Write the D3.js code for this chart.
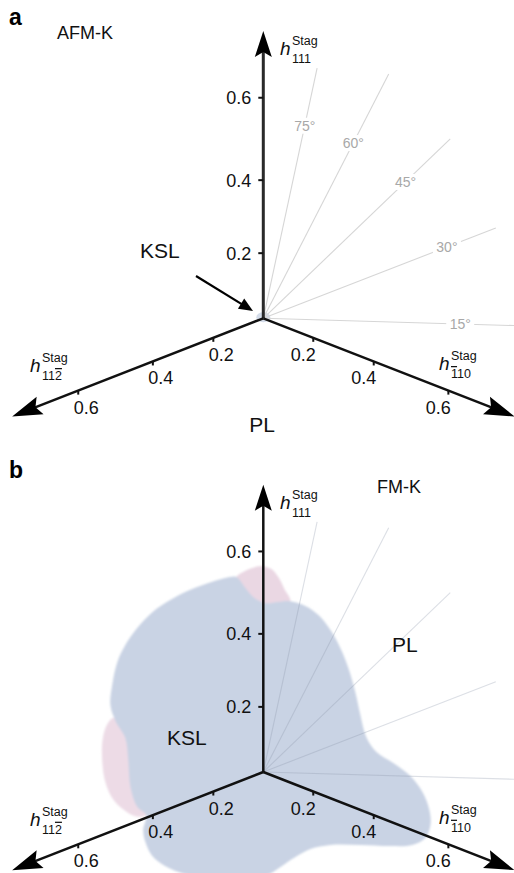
<!DOCTYPE html>
<html><head><meta charset="utf-8">
<script src="https://cdn.jsdelivr.net/npm/d3@7"></script>
<style>
html,body{margin:0;padding:0;background:#fff;}
svg{display:block;font-family:"Liberation Sans",Arial,Helvetica,sans-serif;}
</style>
</head><body>
<svg id="chart" width="514" height="873"></svg>
<script>
// ---------------- data ----------------
const tickValues = [0.2, 0.4, 0.6];
const tickLabels = ["0.2", "0.4", "0.6"];
const axisExtent = 0.745;
const axisKeys = ["111", "112", "110"];            // vertical, left, right
const axisOverline = [-1, 2, 0];                    // index of barred digit
const rayAngles = [15, 30, 45, 60, 75];             // degrees from h_{-110} toward h_{111}
const rayLabels = ["15°", "30°", "45°", "60°", "75°"];
const rayLengths = [0.77, 0.735, 0.735, 0.735, 0.68];
const panelLetters = ["a", "b"];
const panelTitles = ["AFM-K", "FM-K"];
const phaseLabelsA = ["KSL", "PL"];
const phaseLabelsB = ["KSL", "PL"];
// KSL region of panel b, outline in projected field units (u right, v up)
const kslOutline = [
  [-0.074,0.534],[-0.049,0.504],[-0.027,0.479],[0.005,0.463],[0.041,0.466],[0.074,0.468],
  [0.115,0.455],[0.151,0.430],[0.184,0.389],[0.211,0.340],[0.233,0.285],[0.252,0.219],
  [0.266,0.156],[0.282,0.096],[0.310,0.055],[0.356,0.025],[0.403,-0.011],[0.436,-0.055],
  [0.455,-0.104],[0.458,-0.145],[0.444,-0.181],[0.408,-0.200],[0.348,-0.203],[0.266,-0.200],
  [0.184,-0.200],[0.129,-0.211],[0.088,-0.233],[0.047,-0.260],[0.005,-0.285],[-0.063,-0.295],
  [-0.145,-0.293],[-0.214,-0.280],[-0.268,-0.258],[-0.304,-0.230],[-0.323,-0.192],[-0.329,-0.159],
  [-0.321,-0.118],[-0.345,-0.096],[-0.364,-0.041],[-0.370,0.033],[-0.378,0.093],[-0.405,0.140],
  [-0.419,0.184],[-0.414,0.238],[-0.400,0.301],[-0.378,0.348],[-0.345,0.395],[-0.304,0.438],
  [-0.255,0.471],[-0.200,0.499],[-0.140,0.521],[-0.101,0.532]
];
// secondary (pink) regions of panel b
const pinkTop = [
  [-0.074,0.534],[-0.055,0.548],[-0.030,0.559],[-0.003,0.564],[0.022,0.556],[0.041,0.534],
  [0.058,0.501],[0.074,0.468],[0.041,0.440],[0.005,0.440],[-0.040,0.470],[-0.070,0.500]
];
const pinkLeft = [
  [-0.411,0.148],[-0.430,0.126],[-0.441,0.082],[-0.441,0.027],[-0.433,-0.027],[-0.414,-0.071],
  [-0.386,-0.101],[-0.351,-0.121],[-0.321,-0.118],[-0.320,-0.060],[-0.340,0.050],[-0.380,0.130]
];

// ---------------- projection ----------------
const elev = 23 * Math.PI / 180, camDist = 1.501, focal = 484.4, zScale = 1.037;
function project(p, o) {
  const x = p[0], y = p[1], z = p[2] * zScale;
  const ce = Math.cos(elev), se = Math.sin(elev), s = Math.SQRT1_2;
  const right = (x - y) * s;
  const up = -(x + y) * s * se + z * ce;
  const toward = (x + y) * s * ce + z * se;
  const depth = camDist - toward;
  return [o[0] + focal * right / depth, o[1] - focal * up / depth];
}
const axisDirs = [[0,0,1],[0,1,0],[1,0,0]];
const planeScale = d3.scaleLinear().domain([0, 1]).range([0, 365]);

const svg = d3.select("#chart");
const panels = [{o:[263.3,318.3]}, {o:[263.3,772.0]}];

const blur = svg.append("defs").append("filter").attr("id","soft")
  .attr("x","-10%").attr("y","-10%").attr("width","120%").attr("height","120%");
blur.append("feGaussianBlur").attr("stdDeviation", 0.9);

function axisLabel(g, x, y, key, ov) {
  g.append("text").attr("x", x).attr("y", y).attr("font-size", 19)
    .attr("font-style","italic").attr("fill","#111").text("h");
  g.append("text").attr("x", x + 12).attr("y", y - 10).attr("font-size", 12.5)
    .attr("fill","#111").text("Stag");
  const t = g.append("text").attr("x", x + 12).attr("y", y + 8).attr("font-size", 12.5).attr("fill","#111");
  key.split("").forEach((ch, i) => {
    const ts = t.append("tspan").text(ch);
    if (i === ov) ts.style("text-decoration", "overline");
  });
}

panels.forEach((P, pi) => {
  const o = P.o;
  const g = svg.append("g");
  const px = u => o[0] + planeScale(u), py = v => o[1] - planeScale(v);
  const areaLine = d3.line().x(d => px(d[0])).y(d => py(d[1])).curve(d3.curveCatmullRomClosed.alpha(0.5));

  if (pi === 1) {
    const rg = g.append("g").attr("filter","url(#soft)");
    rg.append("path").attr("d", areaLine(pinkTop)).attr("fill", "#ead7e3");
    rg.append("path").attr("d", areaLine(pinkLeft)).attr("fill", "#eddbe6");
    rg.append("path").attr("d", areaLine(kslOutline)).attr("fill", "#c9d3e4");
  } else {
    g.append("ellipse").attr("cx", o[0]).attr("cy", o[1] - 1).attr("rx", 7).attr("ry", 5)
      .attr("fill", "#c9d3e4").attr("opacity", 0.8);
  }

  // rays
  rayAngles.forEach((a, i) => {
    const th = a * Math.PI / 180;
    const end = project([rayLengths[i] * Math.cos(th), 0, rayLengths[i] * Math.sin(th)], o);
    g.append("line").attr("x1", o[0]).attr("y1", o[1]).attr("x2", end[0]).attr("y2", end[1])
      .attr("stroke", pi === 0 ? "#d6d6d6" : "#8a94a8")
      .attr("stroke-opacity", pi === 0 ? 1 : 0.3).attr("stroke-width", 1.1);
    if (pi === 0) {
      const dx = end[0] - o[0], dy = end[1] - o[1], len = Math.hypot(dx, dy);
      const cx = o[0] + dx / len * 197, cy = o[1] + dy / len * 197;
      g.append("rect").attr("x", cx - 14).attr("y", cy - 8).attr("width", 28).attr("height", 16).attr("fill", "#fff");
      g.append("text").attr("x", cx).attr("y", cy + 5).attr("text-anchor","middle")
        .attr("font-size", 14).attr("fill", "#a8a8a8").text(rayLabels[i]);
    }
  });

  // axes
  const arrowLen = [26, 30, 30], arrowW = [8.5, 9.5, 9.5];
  axisDirs.forEach((d, ai) => {
    const tip = project(d.map(v => v * axisExtent), o);
    const pre = project(d.map(v => v * (axisExtent - 0.05)), o);
    let ux = tip[0] - pre[0], uy = tip[1] - pre[1];
    const l = Math.hypot(ux, uy); ux /= l; uy /= l;
    const nx = -uy, ny = ux, L = arrowLen[ai], W = arrowW[ai];
    g.append("line").attr("x1", o[0]).attr("y1", o[1])
      .attr("x2", tip[0] - ux * (L - 6)).attr("y2", tip[1] - uy * (L - 6))
      .attr("stroke", (pi === 0 && ai === 0) ? "#2a2a2a" : "#111")
      .attr("stroke-width", (pi === 0 && ai === 0) ? 3 : 2.5);
    const path = d3.path();
    path.moveTo(tip[0], tip[1]);
    path.lineTo(tip[0] - ux * L + nx * W, tip[1] - uy * L + ny * W);
    path.lineTo(tip[0] - ux * (L - 5), tip[1] - uy * (L - 5));
    path.lineTo(tip[0] - ux * L - nx * W, tip[1] - uy * L - ny * W);
    path.closePath();
    g.append("path").attr("d", path.toString()).attr("fill", "#000");

    tickValues.forEach((t, ti) => {
      const p = project(d.map(v => v * t), o);
      if (ai === 0) {
        g.append("line").attr("x1", p[0] - 5).attr("y1", p[1]).attr("x2", p[0]).attr("y2", p[1])
          .attr("stroke", "#111").attr("stroke-width", 2);
        g.append("text").attr("x", p[0] - 12).attr("y", p[1] + 6.5).attr("text-anchor", "end")
          .attr("font-size", 18).attr("fill", "#111").text(tickLabels[ti]);
      } else {
        g.append("line").attr("x1", p[0]).attr("y1", p[1]).attr("x2", p[0]).attr("y2", p[1] + 4)
          .attr("stroke", "#111").attr("stroke-width", 2);
        const sx = ai === 1 ? 8 : -10;
        g.append("text").attr("x", p[0] + sx).attr("y", p[1] + 23).attr("text-anchor", "middle")
          .attr("font-size", 18).attr("fill", "#111").text(tickLabels[ti]);
      }
    });
  });

  // axis labels
  const dy = pi * 453.7;
  axisLabel(g, 280, 55 + dy, axisKeys[0], axisOverline[0]);
  axisLabel(g, 30, 372 + dy, axisKeys[1], axisOverline[1]);
  axisLabel(g, 439, 370 + dy, axisKeys[2], axisOverline[2]);

  // panel letter and title
  g.append("text").attr("x", 9).attr("y", pi === 0 ? 25 : 478).attr("font-size", 23)
    .attr("font-weight", "bold").attr("fill", "#000").text(panelLetters[pi]);
  g.append("text").attr("x", pi === 0 ? 57 : 377).attr("y", pi === 0 ? 39 : 493)
    .attr("font-size", 18).attr("fill", "#111").text(panelTitles[pi]);

  if (pi === 0) {
    g.append("text").attr("x", 140).attr("y", 258).attr("font-size", 21).attr("fill", "#111").text(phaseLabelsA[0]);
    g.append("text").attr("x", 262).attr("y", 432).attr("text-anchor","middle").attr("font-size", 21).attr("fill", "#111").text(phaseLabelsA[1]);
    // pointer arrow to KSL region
    const s = [196, 276], e = [253, 311];
    let ux = e[0] - s[0], uy = e[1] - s[1]; const l = Math.hypot(ux, uy); ux /= l; uy /= l;
    g.append("line").attr("x1", s[0]).attr("y1", s[1]).attr("x2", e[0] - ux * 8).attr("y2", e[1] - uy * 8)
      .attr("stroke", "#000").attr("stroke-width", 2.2);
    const ah = d3.path();
    ah.moveTo(e[0], e[1]);
    ah.lineTo(e[0] - ux * 14 - uy * 6, e[1] - uy * 14 + ux * 6);
    ah.lineTo(e[0] - ux * 14 + uy * 6, e[1] - uy * 14 - ux * 6);
    ah.closePath();
    g.append("path").attr("d", ah.toString()).attr("fill", "#000");
  } else {
    g.append("text").attr("x", 167).attr("y", 745).attr("font-size", 21).attr("fill", "#111").text(phaseLabelsB[0]);
    g.append("text").attr("x", 392).attr("y", 652).attr("font-size", 21).attr("fill", "#111").text(phaseLabelsB[1]);
  }
});
</script>
</body></html>
